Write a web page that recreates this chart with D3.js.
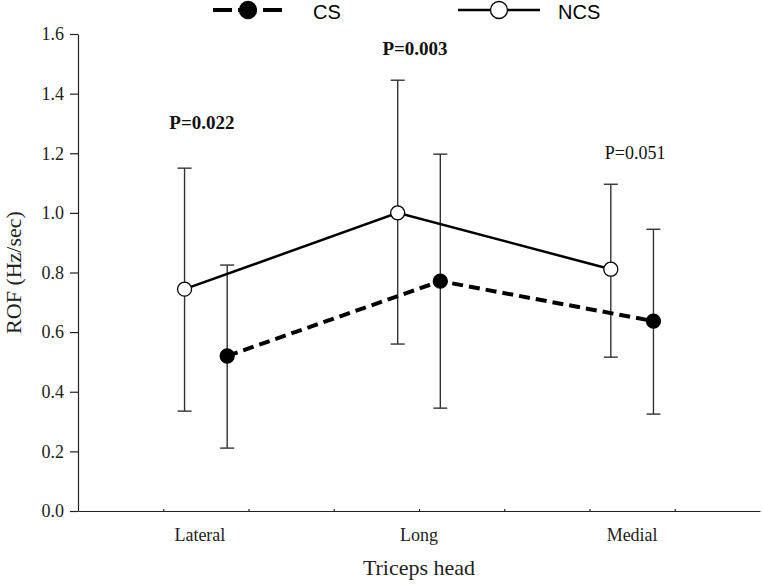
<!DOCTYPE html>
<html>
<head>
<meta charset="utf-8">
<script src="https://cdn.jsdelivr.net/npm/d3@7"></script>
<style>
  body { margin: 0; background: #fff; }
  svg { display: block; }
  .axis text { font-family: "Liberation Serif", "Times New Roman", serif; font-size: 18px; fill: #222; }
  .axis path, .axis line { stroke: #222; stroke-width: 1.2; }
</style>
</head>
<body>
<div id="chart"></div>
<script>
// categories and x positions (positions on a 0..8 axis)
const categories = ['Lateral', 'Long', 'Medial'];
const catPos = [1.5, 4, 6.5];

// CS series (filled, dashed)
const csMean = [0.52, 0.771, 0.637];
const csLow = [0.211, 0.345, 0.325];
const csHigh = [0.825, 1.197, 0.945];

// NCS series (open, solid)
const ncsMean = [0.744, 1.0, 0.811];
const ncsLow = [0.335, 0.56, 0.516];
const ncsHigh = [1.15, 1.445, 1.096];

// p-value labels
const pLabels = ['P=0.022', 'P=0.003', 'P=0.051'];
const pBold = [true, true, false];
const pY = [1.28, 1.53, 1.18];

const yTicks = [0, 0.2, 0.4, 0.6, 0.8, 1.0, 1.2, 1.4, 1.6];

const width = 762, height = 584;
const margin = { top: 34, right: 2, bottom: 73, left: 78 };

const svg = d3.select('#chart').append('svg')
  .attr('width', width)
  .attr('height', height);

const x = d3.scaleLinear().domain([0, 8]).range([margin.left, width - margin.right]);
const y = d3.scaleLinear().domain([0, 1.6]).range([height - margin.bottom, margin.top]);

// y axis
svg.append('g')
  .attr('class', 'axis')
  .attr('transform', 'translate(' + margin.left + ',0)')
  .call(d3.axisLeft(y).tickValues(yTicks).tickFormat(d3.format('.1f')).tickSize(8).tickSizeOuter(0).tickPadding(6));

// x axis: tiny inner ticks, no labels
svg.append('g')
  .attr('class', 'axis')
  .attr('transform', 'translate(0,' + y(0) + ')')
  .call(d3.axisBottom(x).tickValues(d3.range(1, 8)).tickSize(-2).tickSizeOuter(0).tickFormat(''));

// category labels
svg.selectAll('.cat')
  .data(categories)
  .enter().append('text')
  .attr('class', 'cat')
  .attr('x', (d, i) => x(catPos[i]) - (i === 0 ? 6 : 0))
  .attr('y', 541)
  .attr('text-anchor', 'middle')
  .style('font-family', '"Liberation Serif", "Times New Roman", serif')
  .style('font-size', '18px')
  .style('fill', '#222')
  .text(d => d);

// axis titles
svg.append('text')
  .attr('x', x(4))
  .attr('y', 575)
  .attr('text-anchor', 'middle')
  .style('font-family', '"Liberation Serif", "Times New Roman", serif')
  .style('font-size', '22px')
  .style('fill', '#222')
  .text('Triceps head');

svg.append('text')
  .attr('transform', 'translate(21,' + y(0.8) + ') rotate(-90)')
  .attr('text-anchor', 'middle')
  .style('font-family', '"Liberation Serif", "Times New Roman", serif')
  .style('font-size', '22px')
  .style('fill', '#222')
  .text('ROF (Hz/sec)');

const off = 0.25;
const series = [
  { name: 'NCS', mean: ncsMean, low: ncsLow, high: ncsHigh, dx: -off, fill: '#fff', dash: null, width: 2.5 },
  { name: 'CS', mean: csMean, low: csLow, high: csHigh, dx: off, fill: '#000', dash: '11,6', width: 4 }
];

// error bars
series.forEach(s => {
  const g = svg.append('g').attr('stroke', '#333').attr('stroke-width', 1.4);
  s.mean.forEach((m, i) => {
    const cx = x(catPos[i] + s.dx);
    g.append('line').attr('x1', cx).attr('x2', cx).attr('y1', y(s.low[i])).attr('y2', y(s.high[i]));
    g.append('line').attr('x1', cx - 7).attr('x2', cx + 7).attr('y1', y(s.low[i])).attr('y2', y(s.low[i]));
    g.append('line').attr('x1', cx - 7).attr('x2', cx + 7).attr('y1', y(s.high[i])).attr('y2', y(s.high[i]));
  });
});

// lines
const line = d3.line().x(d => x(d[0])).y(d => y(d[1]));
series.forEach(s => {
  const pts = s.mean.map((m, i) => [catPos[i] + s.dx, m]);
  svg.append('path')
    .attr('d', line(pts))
    .attr('fill', 'none')
    .attr('stroke', '#000')
    .attr('stroke-width', s.width)
    .attr('stroke-dasharray', s.dash);
});

// markers
series.forEach(s => {
  svg.selectAll('.m' + s.name)
    .data(s.mean)
    .enter().append('circle')
    .attr('cx', (d, i) => x(catPos[i] + s.dx))
    .attr('cy', d => y(d))
    .attr('r', 7)
    .attr('fill', s.fill)
    .attr('stroke', '#000')
    .attr('stroke-width', 1.3);
});

// p-value labels
svg.selectAll('.p')
  .data(pLabels)
  .enter().append('text')
  .attr('x', (d, i) => x(catPos[i]) - (i === 2 ? -3 : 4))
  .attr('y', (d, i) => y(pY[i]))
  .attr('text-anchor', 'middle')
  .style('font-family', '"Liberation Serif", "Times New Roman", serif')
  .style('font-size', (d, i) => pBold[i] ? '19px' : '18px')
  .style('font-weight', (d, i) => pBold[i] ? 'bold' : 'normal')
  .style('fill', '#111')
  .text(d => d);

// legend
const legend = [
  { name: 'CS', x1: 213, x2: 283, tx: 313, fill: '#000', dash: '19,6', width: 4 },
  { name: 'NCS', x1: 458, x2: 540, tx: 558, fill: '#fff', dash: null, width: 2.5 }
];
const ly = 10;
legend.forEach(l => {
  svg.append('line')
    .attr('x1', l.x1).attr('x2', l.x2).attr('y1', ly).attr('y2', ly)
    .attr('stroke', '#000').attr('stroke-width', l.width)
    .attr('stroke-dasharray', l.dash);
  svg.append('circle')
    .attr('cx', (l.x1 + l.x2) / 2).attr('cy', ly).attr('r', 8.5)
    .attr('fill', l.fill).attr('stroke', '#000').attr('stroke-width', 1.3);
  svg.append('text')
    .attr('x', l.tx).attr('y', 18.5)
    .style('font-family', '"Liberation Sans", Arial, sans-serif')
    .style('font-size', '20px')
    .style('fill', '#000')
    .text(l.name);
});
</script>
</body>
</html>
